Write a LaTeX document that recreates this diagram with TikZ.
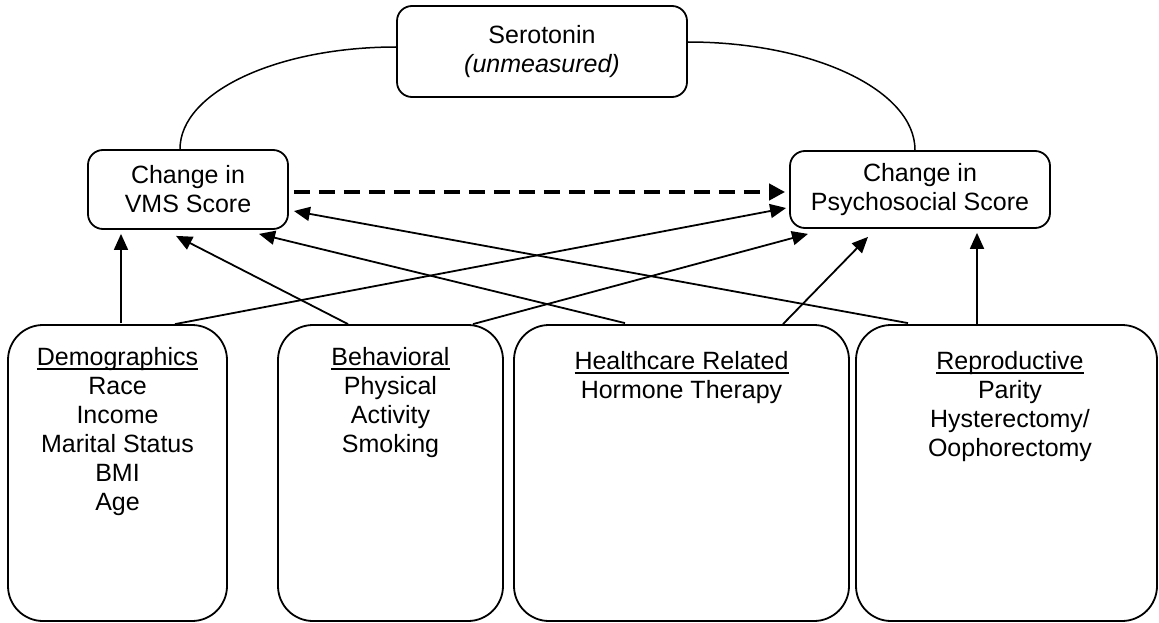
\documentclass[tikz,border=0pt]{standalone}
\usepackage{fontspec}
\setmainfont{Liberation Sans}
\usetikzlibrary{arrows.meta,calc}
\newcommand\ulword[1]{\setbox0\hbox{#1}\rlap{\rule[-4.5pt]{\wd0}{2pt}}\box0}
\tikzset{
  every node/.style={font=\fontsize{25}{29}\selectfont},
  topbox/.style={draw, line width=1.8pt, rounded corners=15pt, inner sep=0pt, align=center},
  botbox/.style={draw, line width=1.8pt, rounded corners=35pt, inner sep=0pt, minimum height=296pt},
  boxtext/.style={anchor=north, inner sep=0pt, align=center},
  arr/.style={line width=1.8pt, -{Triangle[length=16pt,width=14pt]}},
  darr/.style={line width=4pt, dash pattern=on 16pt off 9pt, -{Triangle[length=16pt,width=16pt]}},
  link/.style={line width=1.5pt}
}
\begin{document}
\begin{tikzpicture}[x=1pt,y=-1pt]
\useasboundingbox (0,0) rectangle (1159,623);
% top nodes
\node[topbox, minimum width=290pt, minimum height=91pt] (ser) at (542,51.5) {Serotonin\\\textit{(unmeasured)}};
\node[topbox, minimum width=200pt, minimum height=79pt] (vms) at (188,189.5) {Change in\\VMS Score};
\node[topbox, minimum width=260pt, minimum height=77pt] (psy) at (920,189.5) {Change in\\Psychosocial Score};
% bottom boxes
\node[botbox, minimum width=219pt] (demo) at (117.5,473) {};
\node[botbox, minimum width=225pt] (beh) at (390.5,473) {};
\node[botbox, minimum width=335pt] (hc) at (681.5,473) {};
\node[botbox, minimum width=301pt] (rep) at (1006.5,473) {};
% texts
\node[boxtext] (demoT) at ($(demo.north)+(0,23)$) {\ulword{Demographics}\\Race\\Income\\Marital Status\\BMI\\Age};
\node[boxtext] (behT) at ($(beh.north)+(0,23)$) {\ulword{Behavioral}\\Physical\\Activity\\Smoking};
\node[boxtext] (hcT) at ($(hc.north)+(0,27.5)$) {\ulword{Healthcare Related}\\Hormone Therapy};
\node[boxtext] (repT) at ($(rep.north)+(3.5,27.5)$) {\ulword{Reproductive}\\Parity\\Hysterectomy/\\Oophorectomy};
% serotonin links
\coordinate (sl) at ($(ser.west)+(0,-4.5)$);
\coordinate (sr) at ($(ser.east)+(0,-9.5)$);
\coordinate (vt) at ($(vms.north)+(-8,0)$);
\coordinate (pt) at ($(psy.north)+(-5,0)$);
\draw[link] (sl) .. controls +(-119,0) and +(0,-57) .. (vt);
\draw[link] (sr) .. controls +(125,0) and +(0,-60) .. (pt);
% dashed arrow
\draw[darr] ($(vms.east)+(5,2.5)$) -- ($(psy.west)+(-4,2.5)$);
% solid arrows
\draw[arr] ($(demo.north)+(3.5,-1)$) -- ($(vms.south)+(-67,4)$);
\draw[arr] ($(demo.north)+(57.5,0)$) -- ($(psy.west)+(-3,18.5)$);
\draw[arr] ($(beh.north)+(-42.5,0)$) -- ($(vms.south)+(-12,6)$);
\draw[arr] ($(beh.north)+(82.5,0)$) -- ($(psy.south)+(-112,5)$);
\draw[arr] ($(hc.north)+(-56.5,-1)$) -- ($(vms.south)+(71,4)$);
\draw[arr] ($(hc.north)+(101.5,0)$) -- ($(psy.south)+(-52,8)$);
\draw[arr] ($(rep.north)+(-98.5,-1)$) -- ($(vms.east)+(5,21.5)$);
\draw[arr] ($(rep.north)+(-29.5,2)$) -- ($(psy.south)+(57,4)$);
\end{tikzpicture}
\end{document}
